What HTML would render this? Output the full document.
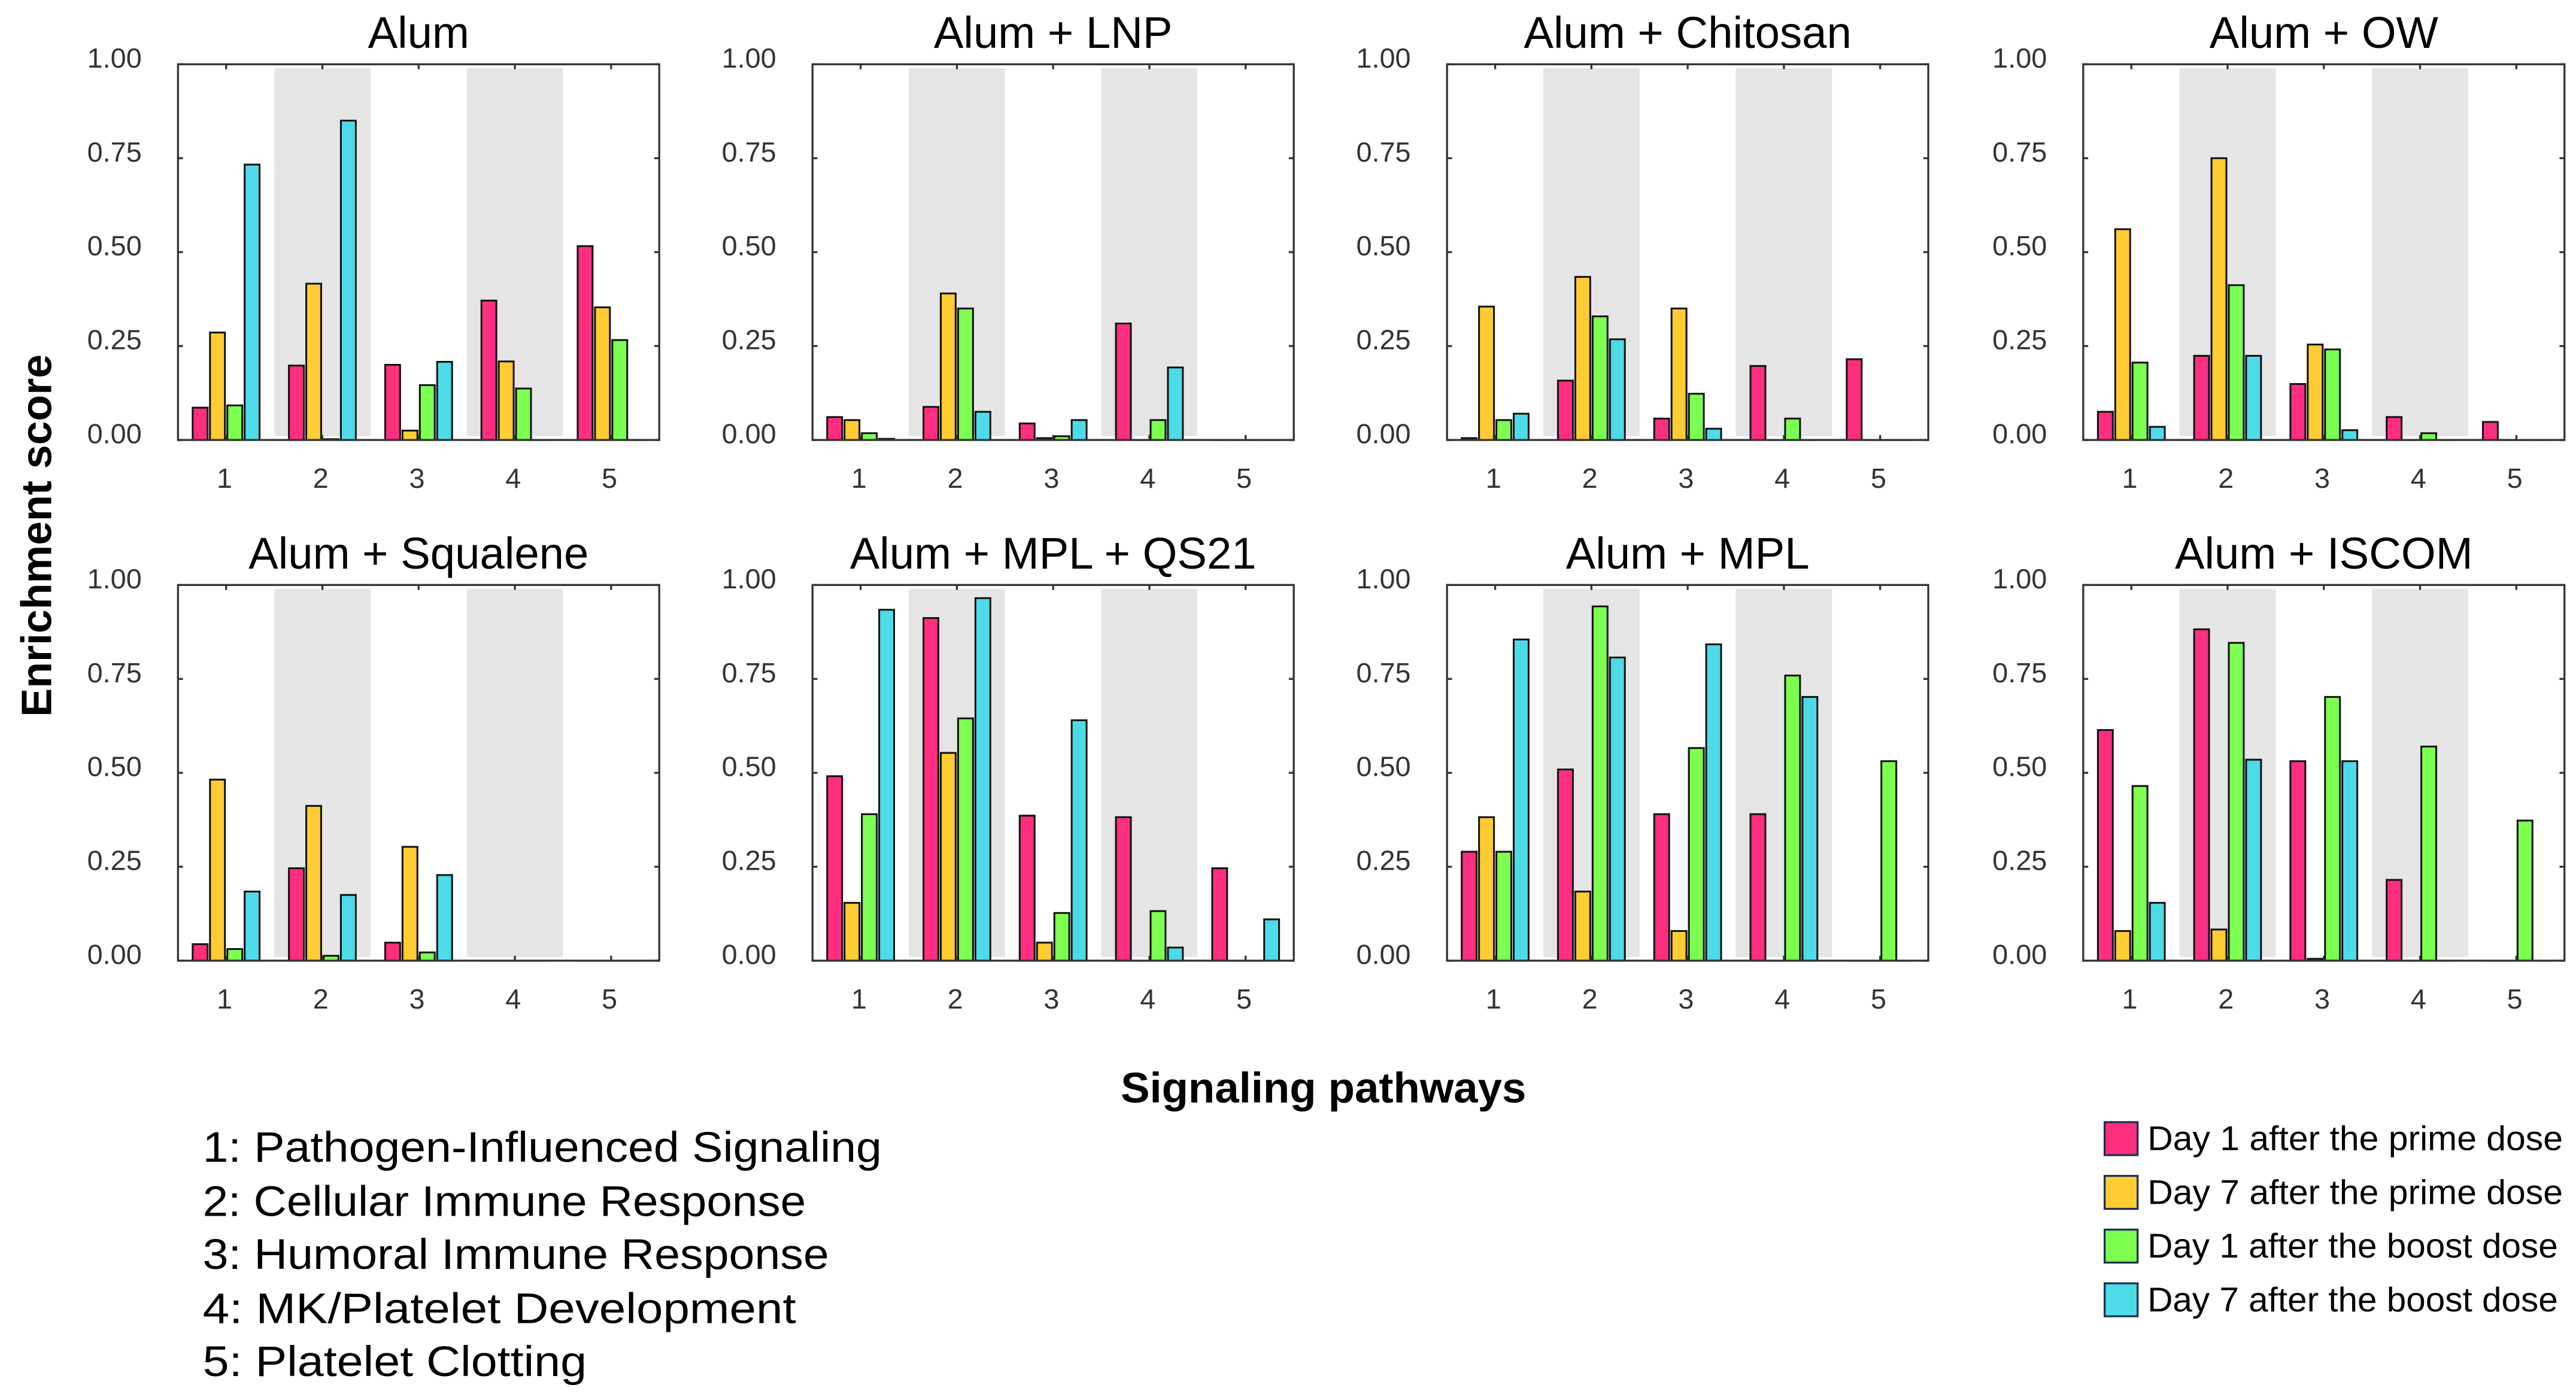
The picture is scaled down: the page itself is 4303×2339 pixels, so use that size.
<!DOCTYPE html>
<html><head><meta charset="utf-8">
<style>
html,body{margin:0;padding:0;background:#fff;}
svg{display:block;}
text{font-family:"Liberation Sans",sans-serif;}
</style></head>
<body>
<svg id="fig" xmlns="http://www.w3.org/2000/svg" width="4303" height="2339" viewBox="0 0 1563 849.6">
<rect x="0" y="0" width="1563" height="850" fill="#fff"/>
<g id="panels"></g>
<text x="0" y="0" transform="translate(31,325) rotate(-90)" text-anchor="middle" font-size="26" font-weight="bold" fill="#000" textLength="220" lengthAdjust="spacingAndGlyphs">Enrichment score</text>
<text x="803" y="669" text-anchor="middle" font-size="26" font-weight="bold" fill="#000" textLength="246" lengthAdjust="spacingAndGlyphs">Signaling pathways</text>
<g font-size="26" fill="#000">
<text x="123" y="705" textLength="412" lengthAdjust="spacingAndGlyphs">1: Pathogen-Influenced Signaling</text>
<text x="123" y="738" textLength="366" lengthAdjust="spacingAndGlyphs">2: Cellular Immune Response</text>
<text x="123" y="770" textLength="380" lengthAdjust="spacingAndGlyphs">3: Humoral Immune Response</text>
<text x="123" y="803" textLength="360" lengthAdjust="spacingAndGlyphs">4: MK/Platelet Development</text>
<text x="123" y="835" textLength="233" lengthAdjust="spacingAndGlyphs">5: Platelet Clotting</text>
</g>
<g id="legend"></g>
</svg>
<script>
const categories = [1, 2, 3, 4, 5];
const yTicks = [0, 0.25, 0.5, 0.75, 1.0];
const yTickLabels = ["0.00", "0.25", "0.50", "0.75", "1.00"];
const seriesNames = ["Day 1 after the prime dose", "Day 7 after the prime dose", "Day 1 after the boost dose", "Day 7 after the boost dose"];
const seriesColors = ["#ff2e7e", "#ffcc33", "#7dff50", "#4ddbe8"];
const panelTitles = ["Alum", "Alum + LNP", "Alum + Chitosan", "Alum + OW", "Alum + Squalene", "Alum + MPL + QS21", "Alum + MPL", "Alum + ISCOM"];
const alum = [[0.086,0.198,0.2,0.371,0.516],[0.286,0.416,0.025,0.209,0.353],[0.092,0.002,0.146,0.137,0.266],[0.733,0.85,0.208,0,0]];
const alumLNP = [[0.061,0.088,0.044,0.31,0],[0.053,0.39,0.005,0,0],[0.018,0.35,0.01,0.053,0],[0.003,0.075,0.053,0.193,0]];
const alumChitosan = [[0.005,0.158,0.057,0.197,0.215],[0.355,0.434,0.35,0,0],[0.053,0.329,0.123,0.057,0],[0.07,0.268,0.03,0,0]];
const alumOW = [[0.075,0.224,0.149,0.061,0.048],[0.561,0.75,0.254,0,0],[0.206,0.412,0.241,0.018,0],[0.035,0.224,0.026,0,0]];
const alumSqualene = [[0.044,0.246,0.048,0,0],[0.482,0.412,0.303,0,0],[0.031,0.013,0.022,0,0],[0.184,0.175,0.228,0,0]];
const alumMPLQS21 = [[0.491,0.912,0.386,0.382,0.246],[0.154,0.553,0.048,0,0],[0.39,0.645,0.127,0.132,0],[0.934,0.965,0.64,0.035,0.11]];
const alumMPL = [[0.29,0.509,0.39,0.39,0],[0.382,0.184,0.079,0,0],[0.29,0.943,0.566,0.759,0.531],[0.855,0.807,0.842,0.702,0]];
const alumISCOM = [[0.614,0.882,0.531,0.215,0],[0.079,0.083,0.005,0,0],[0.465,0.846,0.702,0.57,0.373],[0.154,0.535,0.531,0,0]];
const panelData = [alum, alumLNP, alumChitosan, alumOW, alumSqualene, alumMPLQS21, alumMPL, alumISCOM];

const NS = "http://www.w3.org/2000/svg";
function mk(tag, attrs, parent){const e=document.createElementNS(NS,tag);for(const k in attrs)e.setAttribute(k,attrs[k]);parent.appendChild(e);return e;}
const colX = [108, 493, 878, 1264];
const rowY = [39, 355];
const W = 292, H = 228;
const root = document.getElementById('panels');
const offsets = [-0.27, -0.09, 0.09, 0.27];
const barW = 0.155;

panelData.forEach((data, pi) => {
  const x0 = colX[pi % 4], y0 = rowY[Math.floor(pi / 4)];
  const g = mk('g', {}, root);
  
  
  const xs = c => x0 + (c - 0.5) / 5 * W;
  const ys = v => y0 + H - v * H;
  categories.forEach(c => {
    if (c % 2 === 0) {
      const b = mk('rect', {x: xs(c - 0.5), y: ys(0.99), width: xs(c + 0.5) - xs(c - 0.5), height: ys(0.01) - ys(0.99), fill: '#e5e5e5'}, g);
      
      
    }
  });
  data.forEach((series, si) => {
    series.forEach((v, ci) => {
      const c = categories[ci];
      const bx = xs(c + offsets[si] - barW / 2);
      const bw = xs(c + offsets[si] + barW / 2) - bx;
      const r = mk('rect', {x: bx, y: ys(v), width: bw, height: Math.max(ys(0) - ys(v), 0.01), fill: seriesColors[si], stroke: '#111', 'stroke-width': 1.1}, g);
      
      
    });
  });
  const f = mk('rect', {x: x0, y: y0, width: W, height: H, fill: 'none', stroke: '#333', 'stroke-width': 1.2}, g);
  
  
  yTicks.forEach((t, i) => {
    mk('line', {x1: x0, x2: x0 + 3, y1: ys(t), y2: ys(t), stroke: '#333', 'stroke-width': 1.2}, g);
    mk('line', {x1: x0 + W, x2: x0 + W - 3, y1: ys(t), y2: ys(t), stroke: '#333', 'stroke-width': 1.2}, g);
    const tl = mk('text', {x: x0 - 22, y: ys(t) + 2, 'text-anchor': 'end', 'font-size': 17, fill: '#333'}, g);
    tl.textContent = yTickLabels[i];
    
    
  });
  categories.forEach(c => {
    mk('line', {x1: xs(c), x2: xs(c), y1: y0 + H, y2: y0 + H - 3, stroke: '#333', 'stroke-width': 1.2}, g);
    mk('line', {x1: xs(c), x2: xs(c), y1: y0, y2: y0 + 3, stroke: '#333', 'stroke-width': 1.2}, g);
    const tl = mk('text', {x: xs(c) - 1, y: y0 + H + 29, 'text-anchor': 'middle', 'font-size': 17, fill: '#333'}, g);
    tl.textContent = c;
    
    
  });
  const tt = mk('text', {x: x0 + W / 2, y: y0 - 10, 'text-anchor': 'middle', 'font-size': 27, fill: '#000'}, g);
  tt.textContent = panelTitles[pi];
  
  
});

const lg = document.getElementById('legend');
const legendWidths = [252, 252, 249, 249];
seriesNames.forEach((n, i) => {
  const y = 681 + i * 32.6;
  const r = mk('rect', {x: 1277, y: y, width: 20, height: 20, fill: seriesColors[i], stroke: '#1f3050', 'stroke-width': 1.2}, lg);
  
  
  const t = mk('text', {x: 1303, y: y + 17, 'font-size': 21, fill: '#000', textLength: legendWidths[i], lengthAdjust: 'spacingAndGlyphs'}, lg);
  t.textContent = n;
  
  
});
</script>
</body></html>
